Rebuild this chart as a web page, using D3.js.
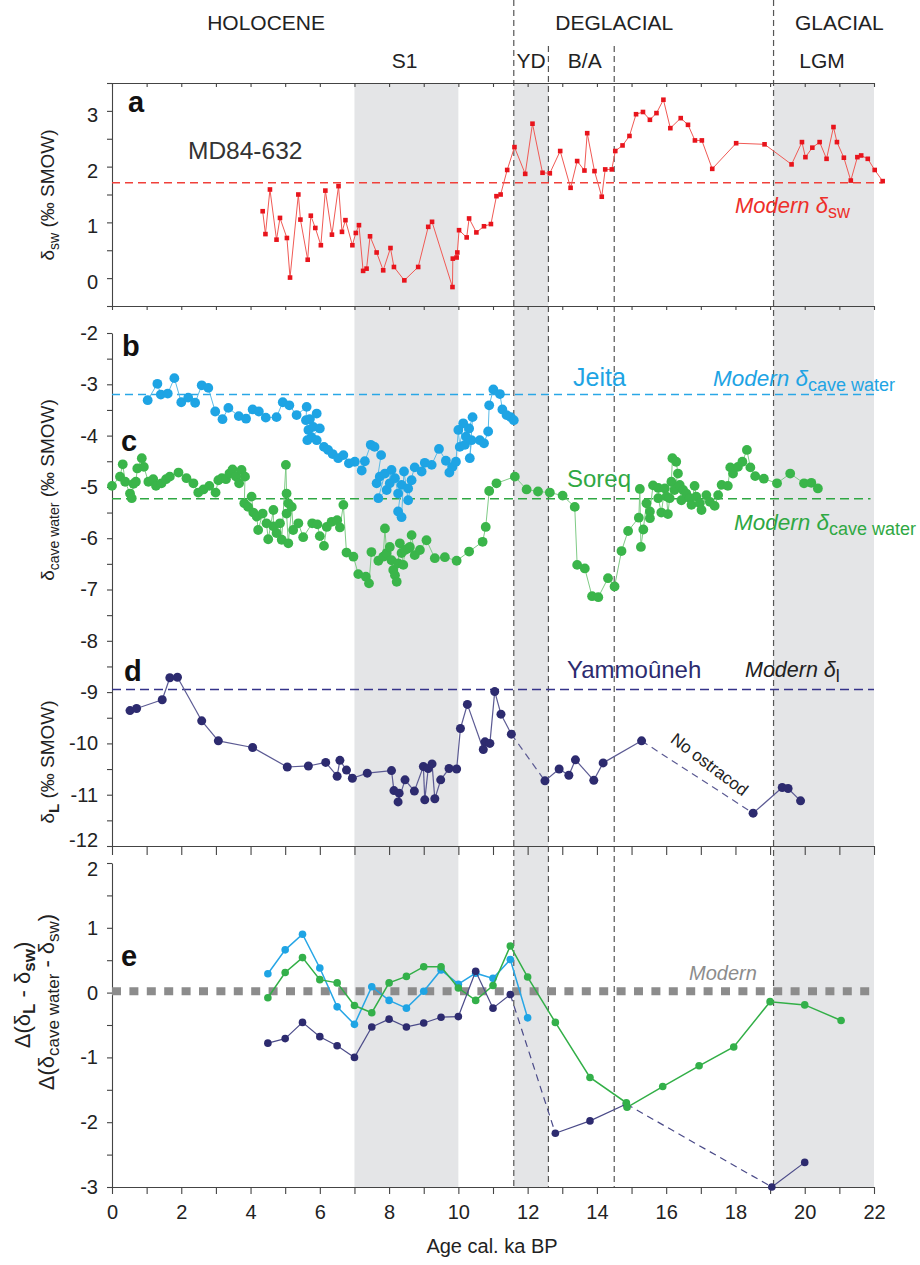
<!DOCTYPE html>
<html><head><meta charset="utf-8">
<script src="https://cdn.jsdelivr.net/npm/d3@7"></script>
<style>body{margin:0;background:#fff} svg{display:block} text{font-family:"Liberation Sans",Arial,Helvetica,sans-serif}</style>
</head><body><svg id="c" width="920" height="1265"></svg>
<script>
// ---------------- DATA ----------------
const periodLabels = ["HOLOCENE","DEGLACIAL","GLACIAL"];
const periodCenters = [4.45, 14.5, 21.0];
const eventLabels = ["S1","YD","B/A","LGM"];
const eventCenters = [8.45, 12.1, 13.65, 20.5];
const shadeBands = [[7,10],[11.6,12.6],[19.1,22]];
const boundaryAges = [11.6,12.6,14.5,19.1];
const xTicks = d3.range(0,23,1);
const xLabels = d3.range(0,23,2);

// (a) MD84-632 delta_sw
const redAge = [4.35,4.43,4.56,4.75,4.85,5.05,5.14,5.38,5.44,5.65,5.74,5.87,6.03,6.16,6.35,6.54,6.64,6.74,6.94,7.04,7.13,7.25,7.35,7.45,7.64,7.83,8.04,8.14,8.44,8.84,9.13,9.24,9.83,9.84,9.95,9.97,10.02,10.24,10.31,10.52,10.74,10.94,11.10,11.22,11.41,11.62,11.93,12.14,12.43,12.64,12.94,13.24,13.43,13.64,13.72,13.93,14.14,14.24,14.43,14.53,14.74,14.94,15.13,15.33,15.53,15.72,15.92,16.12,16.42,16.63,16.83,17.03,17.33,18.02,18.84,19.62,19.92,20.02,20.22,20.43,20.63,20.83,20.93,21.13,21.33,21.52,21.63,21.82,22.02,22.25];
const redVal = [1.20,0.79,1.59,0.69,1.08,0.72,0.01,1.50,1.05,0.33,1.12,0.90,0.59,1.57,0.78,1.65,0.83,1.04,0.59,0.81,0.95,0.13,0.17,0.75,0.46,0.14,0.54,0.20,-0.04,0.20,0.92,1.01,-0.16,0.35,0.37,0.46,0.86,0.73,1.07,0.82,0.93,0.97,1.47,1.50,1.94,2.35,1.87,2.77,1.89,1.88,2.28,1.62,2.10,1.93,2.60,1.92,1.46,1.95,1.95,2.28,2.38,2.55,2.94,2.98,2.84,2.96,3.20,2.69,2.87,2.75,2.47,2.47,1.96,2.42,2.40,2.04,2.44,2.17,2.34,2.44,2.14,2.71,2.44,2.16,1.75,2.17,2.20,2.14,1.94,1.74];
const modernSw = 1.71;

// (b) Jeita cave water
const jeitaAge = [1.03,1.31,1.41,1.61,1.80,2.00,2.20,2.40,2.59,2.78,2.98,3.19,3.36,3.66,3.87,4.06,4.24,4.44,4.75,4.93,5.12,5.33,5.62,5.60,5.71,5.91,5.67,5.81,6.00,5.76,5.64,5.91,6.12,6.24,6.37,6.53,6.68,6.84,7.01,7.21,7.30,7.47,7.58,7.77,7.64,7.73,7.88,7.69,7.93,8.07,8.02,8.17,8.26,8.36,8.26,8.36,8.43,8.55,8.65,8.55,8.74,8.94,9.03,9.23,9.44,9.64,9.74,9.83,9.93,10.00,10.04,10.14,10.22,10.19,10.31,10.41,10.33,10.38,10.62,10.74,10.86,10.89,11.01,11.20,11.27,11.39,11.51,11.60];
const jeitaVal = [-3.31,-2.99,-3.20,-3.18,-2.88,-3.35,-3.26,-3.36,-3.02,-3.07,-3.53,-3.68,-3.46,-3.62,-3.67,-3.49,-3.53,-3.65,-3.64,-3.35,-3.41,-3.60,-3.44,-3.70,-3.68,-3.57,-3.89,-3.83,-3.86,-4.03,-4.09,-4.09,-4.22,-4.28,-4.36,-4.44,-4.38,-4.54,-4.51,-4.68,-4.50,-4.18,-4.22,-4.38,-4.93,-4.80,-4.74,-5.22,-5.06,-4.67,-4.93,-4.83,-5.13,-4.96,-5.48,-5.59,-4.70,-5.26,-4.87,-5.03,-4.62,-4.70,-4.53,-4.57,-4.26,-4.49,-4.72,-4.61,-4.51,-3.89,-4.22,-3.76,-4.02,-4.18,-3.86,-3.64,-4.44,-4.09,-4.09,-4.15,-3.92,-3.41,-3.10,-3.19,-3.49,-3.60,-3.64,-3.70];
const modernJeita = -3.20;

// (c) Soreq cave water
const soreqAge = [0.00,0.23,0.31,0.38,0.52,0.57,0.62,0.69,0.73,0.86,0.92,1.05,1.19,1.27,1.43,1.56,1.67,1.92,2.15,2.35,2.49,2.64,2.81,2.99,3.07,3.17,3.29,3.39,3.48,3.58,3.67,3.74,3.84,3.82,3.93,4.03,4.08,4.18,4.22,4.35,4.46,4.51,4.66,4.66,4.75,4.85,4.90,5.02,5.04,5.09,5.04,5.09,5.19,5.23,5.38,5.52,5.78,5.93,6.00,6.12,6.20,6.34,6.50,6.58,6.68,6.77,6.97,7.11,7.33,7.42,7.49,7.69,7.83,7.88,7.93,8.02,8.07,8.12,8.17,8.22,8.26,8.31,8.36,8.41,8.46,8.55,8.60,8.65,8.74,8.89,9.08,9.32,9.61,9.95,10.31,10.70,10.79,10.89,11.10,11.63,11.97,12.30,12.64,13.01,13.36,13.43,13.65,13.86,14.04,14.32,14.51,14.71,14.90,15.21,15.24,15.27,15.34,15.43,15.53,15.53,15.62,15.77,15.77,15.86,15.96,16.01,16.05,16.10,16.15,16.18,16.29,16.34,16.24,16.39,16.44,16.49,16.58,16.68,16.73,16.82,16.87,16.97,17.02,17.16,17.26,17.40,17.50,17.60,17.78,17.85,17.93,18.07,18.20,18.33,18.43,18.57,18.82,19.20,19.58,19.98,20.19,20.38];
const soreqVal = [-4.98,-4.80,-4.56,-4.90,-5.13,-5.22,-4.94,-4.90,-4.64,-4.44,-4.61,-4.90,-4.85,-4.98,-4.93,-4.85,-4.80,-4.72,-4.83,-4.93,-5.11,-5.05,-4.98,-5.11,-4.87,-4.83,-4.85,-4.74,-4.66,-4.80,-4.93,-4.67,-4.80,-5.32,-5.39,-5.19,-5.50,-5.58,-5.84,-5.52,-5.71,-6.02,-5.45,-5.77,-5.90,-5.71,-6.03,-4.57,-5.13,-5.32,-5.52,-6.10,-5.39,-5.84,-5.71,-5.98,-5.71,-5.73,-5.96,-6.15,-5.78,-5.68,-5.65,-5.79,-5.35,-6.28,-6.36,-6.70,-6.75,-6.88,-6.27,-6.44,-6.36,-5.81,-6.29,-6.17,-6.43,-6.62,-6.72,-6.85,-6.49,-6.10,-6.29,-6.52,-6.23,-6.20,-6.17,-5.94,-6.33,-6.23,-6.04,-6.39,-6.37,-6.44,-6.26,-6.07,-5.78,-5.08,-4.93,-4.80,-5.05,-5.09,-5.11,-5.17,-5.39,-6.52,-6.59,-7.13,-7.15,-6.78,-6.94,-6.25,-5.86,-5.60,-5.04,-6.17,-5.83,-5.32,-5.61,-5.48,-4.97,-5.02,-5.22,-5.50,-5.03,-5.19,-5.53,-5.22,-4.90,-4.44,-4.51,-4.74,-5.06,-4.96,-5.26,-5.06,-5.13,-5.22,-5.35,-4.98,-5.19,-5.32,-5.45,-5.16,-5.29,-5.37,-5.16,-4.96,-4.98,-4.62,-4.74,-4.61,-4.51,-4.28,-4.62,-4.79,-4.84,-4.93,-4.74,-4.93,-4.92,-5.03];
const modernSoreq = -5.23;

// (d) Yammouneh lake water
const yamAge = [0.52,0.71,1.45,1.67,1.89,2.59,3.07,4.06,5.06,5.67,6.17,6.50,6.58,6.77,6.94,7.37,8.07,8.14,8.29,8.26,8.46,8.73,8.99,9.03,9.13,9.24,9.32,9.49,9.73,9.95,10.06,10.26,10.72,10.77,10.91,11.05,11.23,11.53,12.50,12.91,13.19,13.38,13.91,14.18,15.29,18.51,19.35,19.52,19.88];
const yamVal = [-9.36,-9.32,-9.15,-8.72,-8.71,-9.56,-9.95,-10.08,-10.46,-10.44,-10.37,-10.64,-10.33,-10.52,-10.68,-10.58,-10.53,-10.92,-10.97,-11.14,-10.71,-10.93,-10.45,-11.10,-10.49,-10.40,-11.08,-10.71,-10.49,-10.50,-9.71,-9.24,-10.12,-9.97,-10.00,-8.99,-9.43,-9.82,-10.73,-10.50,-10.62,-10.32,-10.72,-10.38,-9.95,-11.36,-10.86,-10.88,-11.12];
const yamDashedAfter = [37,44];
const modernYam = -8.95;

// (e) differences
const eJeitaAge = [4.5,5.0,5.5,6.0,6.5,7.0,7.5,8.0,8.5,9.0,9.5,10.0,10.5,11.0,11.5,12.0];
const eJeitaVal = [0.29,0.66,0.90,0.38,-0.22,-0.49,0.09,-0.12,-0.24,0.02,0.35,0.13,0.30,0.22,0.51,-0.39];
const eSoreqAge = [4.5,5.0,5.5,6.0,6.5,7.0,7.5,8.0,8.5,9.0,9.5,10.0,10.5,11.0,11.5,12.0,12.8,13.8,14.85,14.87,15.9,16.95,17.95,19.0,20.0,21.05];
const eSoreqVal = [-0.08,0.31,0.54,0.20,0.15,-0.20,-0.31,0.15,0.25,0.40,0.40,0.07,-0.12,0.11,0.72,0.24,-0.46,-1.31,-1.70,-1.77,-1.45,-1.13,-0.84,-0.14,-0.19,-0.43];
const eYamAge = [4.5,5.0,5.5,6.0,6.5,7.0,7.5,8.0,8.5,9.0,9.5,10.0,10.5,11.0,11.5,12.8,13.8,14.85,19.05,20.0];
const eYamVal = [-0.78,-0.71,-0.46,-0.68,-0.82,-1.00,-0.53,-0.41,-0.53,-0.47,-0.38,-0.37,0.33,-0.24,-0.03,-2.17,-1.98,-1.72,-3.0,-2.62];
const eYamDashedAfter = [14,17];
const modernE = 0.02;

// ---------------- DRAW ----------------
const svg = d3.select("#c");
const x = d3.scaleLinear().domain([0,22]).range([112,874]);
const yA = d3.scaleLinear().domain([-0.5,3.5]).range([306,83]);
const yB = d3.scaleLinear().domain([-12,-2]).range([846,333]);
const yE = d3.scaleLinear().domain([-3,2]).range([1187,863]);
const TOP = 83, BOT = 1187;
const FS = 20;

const C = {red:"#e8141c", redL:"#f05a55", blue:"#1ea4e4", blueL:"#5bbbe8",
  green:"#3ab54a", greenL:"#7fcb86", navy:"#2d2b6f", navyL:"#5b5a93", axis:"#444"};

// shading
svg.append("g").selectAll("rect").data(shadeBands).join("rect")
  .attr("x", d => x(d[0])).attr("width", d => x(d[1]) - x(d[0]))
  .attr("y", TOP).attr("height", BOT - TOP).attr("fill", "#e4e5e7");

// boundary dashed lines
const boundaryTop = [0, 46, 46, 0];
svg.append("g").selectAll("line").data(boundaryAges).join("line")
  .attr("x1", d => x(d)).attr("x2", d => x(d))
  .attr("y1", (d, i) => boundaryTop[i]).attr("y2", BOT)
  .attr("stroke", "#555").attr("stroke-width", 1.2).attr("stroke-dasharray", "6,4");

// top labels
svg.append("g").selectAll("text").data(periodLabels).join("text")
  .attr("x", (d, i) => x(periodCenters[i])).attr("y", 30).attr("text-anchor", "middle")
  .attr("font-size", 21).attr("fill", "#222").text(d => d);
svg.append("g").selectAll("text").data(eventLabels).join("text")
  .attr("x", (d, i) => x(eventCenters[i])).attr("y", 68).attr("text-anchor", "middle")
  .attr("font-size", 21).attr("fill", "#222").text(d => d);

function styleAxis(g, fs) {
  g.selectAll("path.domain").attr("stroke", C.axis).attr("stroke-width", 1.1);
  g.selectAll(".tick line").attr("stroke", C.axis).attr("stroke-width", 1.1);
  g.selectAll(".tick text").attr("font-size", fs || FS).attr("fill", "#222")
    .attr("font-family", "'Liberation Sans',Arial,sans-serif");
}
const fmtInt = d => Number.isInteger(d) ? String(d) : "";

// x axes without labels: top of a, bottom of a, bottom of d
[[TOP, 4], [306, 4], [846, 9]].forEach(([yy, ts]) => {
  const g = svg.append("g").attr("transform", `translate(0,${yy})`)
    .call(d3.axisBottom(x).tickValues(xTicks).tickFormat("").tickSize(ts).tickSizeOuter(0));
  styleAxis(g);
});
// bottom axis
const gxb = svg.append("g").attr("transform", `translate(0,${BOT})`)
  .call(d3.axisBottom(x).tickValues(xTicks).tickFormat(d => xLabels.includes(d) ? String(d) : "")
    .tickSize(7).tickSizeOuter(0).tickPadding(11));
styleAxis(gxb);
svg.append("text").attr("x", 492).attr("y", 1253).attr("text-anchor", "middle")
  .attr("font-size", FS).attr("fill", "#222").text("Age cal. ka BP");

// y axes
const gya = svg.append("g").attr("transform", "translate(112,0)")
  .call(d3.axisLeft(yA).tickValues(d3.range(-0.5, 3.51, 0.5)).tickFormat(fmtInt)
    .tickSize(5).tickSizeOuter(0).tickPadding(9));
styleAxis(gya);
gya.selectAll(".tick text").attr("dy", "0.52em");
const gyb = svg.append("g").attr("transform", "translate(112,0)")
  .call(d3.axisLeft(yB).tickValues(d3.range(-12, -1.99, 0.5)).tickFormat(fmtInt)
    .tickSize(5).tickSizeOuter(0).tickPadding(9));
styleAxis(gyb);
gyb.selectAll(".tick text").filter(d => d === -12).attr("dy", "0.02em");
const gye = svg.append("g").attr("transform", "translate(112,0)")
  .call(d3.axisLeft(yE).tickValues(d3.range(-3, 2.01, 0.5)).tickFormat(fmtInt)
    .tickSize(5).tickSizeOuter(0).tickPadding(9));
styleAxis(gye);
gye.selectAll(".tick text").filter(d => d === 2).attr("dy", "0.62em");

// rich text helper (subscripts as tspans)
function rich(parent, parts, attrs) {
  const t = parent.append("text");
  Object.entries(attrs || {}).forEach(([k, v]) => t.attr(k, v));
  let shifted = 0;
  parts.forEach(p => {
    const s = t.append("tspan").text(p.t);
    const want = p.sub ? 5 : 0;
    if (want !== shifted) { s.attr("dy", want - shifted); shifted = want; }
    if (p.size) s.attr("font-size", p.size);
    if (p.b) s.attr("font-weight", "bold");
    if (p.i) s.attr("font-style", "italic");
  });
  return t;
}
function yTitle(cx, cy, parts, fs) {
  const g = svg.append("g").attr("transform", `translate(${cx},${cy}) rotate(-90)`);
  rich(g, parts, {"text-anchor": "middle", "font-size": fs || 19, "fill": "#222"});
}
yTitle(54, 195, [{t: "δ"}, {t: "sw", sub: true, size: 14}, {t: " (‰ SMOW)"}]);
yTitle(54, 490, [{t: "δ"}, {t: "cave water", sub: true, size: 14}, {t: " (‰ SMOW)"}]);
yTitle(54, 762, [{t: "δ"}, {t: "L", sub: true, size: 15, b: true}, {t: " (‰ SMOW)"}]);
yTitle(30, 995, [{t: "Δ(δ"}, {t: "L", sub: true, size: 17, b: true}, {t: " - δ"}, {t: "sw", sub: true, size: 17, b: true}, {t: ")"}], 22);
yTitle(54, 1002, [{t: "Δ(δ"}, {t: "cave water", sub: true, size: 17}, {t: " - δ"}, {t: "sw", sub: true, size: 17}, {t: ")"}], 22);

// panel letters
[["a", 128, 112], ["b", 122, 356], ["c", 121, 451], ["d", 124, 681], ["e", 121, 966]].forEach(([l, px, py]) => {
  svg.append("text").attr("x", px).attr("y", py).attr("font-size", 29).attr("font-weight", "bold")
    .attr("fill", "#111").text(l);
});

// modern reference lines
function hline(y, v, x0, x1, col, w, dash) {
  svg.append("line").attr("x1", x(x0)).attr("x2", x(x1)).attr("y1", y(v)).attr("y2", y(v))
    .attr("stroke", col).attr("stroke-width", w).attr("stroke-dasharray", dash);
}
hline(yA, modernSw, 0, 22.25, "#f0403a", 1.6, "8,5");
hline(yB, modernJeita, 0, 22, "#2aa7e6", 1.6, "8,5");
hline(yB, modernSoreq, 0, 21.9, "#2fa843", 1.6, "9,5");
hline(yB, modernYam, 0, 22, "#34338a", 1.6, "9,5");
hline(yE, modernE, 0, 22, "#8c8c8c", 8, "9,8.4");

// series helpers
function pts(ages, vals) { return ages.map((a, i) => [a, vals[i]]); }
function lineSeries(data, y, col, w) {
  svg.append("path").datum(data)
    .attr("d", d3.line().x(d => x(d[0])).y(d => y(d[1])))
    .attr("fill", "none").attr("stroke", col).attr("stroke-width", w);
}
function dots(data, y, col, r) {
  svg.append("g").selectAll("circle").data(data).join("circle")
    .attr("cx", d => x(d[0])).attr("cy", d => y(d[1])).attr("r", r).attr("fill", col);
}
function segSeries(data, y, col, w, dashedAfter) {
  svg.append("g").selectAll("line").data(d3.range(data.length - 1)).join("line")
    .attr("x1", i => x(data[i][0])).attr("y1", i => y(data[i][1]))
    .attr("x2", i => x(data[i + 1][0])).attr("y2", i => y(data[i + 1][1]))
    .attr("stroke", col).attr("stroke-width", w)
    .attr("stroke-dasharray", i => dashedAfter.includes(i) ? "7,5" : null);
}

// (a)
const red = pts(redAge, redVal);
lineSeries(red, yA, C.redL, 1);
svg.append("g").selectAll("rect").data(red).join("rect")
  .attr("x", d => x(d[0]) - 2.3).attr("y", d => yA(d[1]) - 2.3)
  .attr("width", 4.6).attr("height", 4.6).attr("fill", C.red);

// (b)
const jei = pts(jeitaAge, jeitaVal);
lineSeries(jei, yB, C.blueL, 1);
dots(jei, yB, C.blue, 4.9);
// (c)
const sor = pts(soreqAge, soreqVal);
lineSeries(sor, yB, C.greenL, 1);
dots(sor, yB, C.green, 4.9);
// (d)
const yam = pts(yamAge, yamVal);
segSeries(yam, yB, C.navyL, 1.2, yamDashedAfter);
dots(yam, yB, C.navy, 4.5);

// (e)
const ej = pts(eJeitaAge, eJeitaVal), es = pts(eSoreqAge, eSoreqVal), ey = pts(eYamAge, eYamVal);
lineSeries(ej, yE, "#27a6e6", 1.5);
dots(ej, yE, "#1ea4e4", 3.8);
lineSeries(es, yE, "#32af47", 1.5);
segSeries(ey, yE, "#4a4a88", 1.2, eYamDashedAfter);
dots(ey, yE, C.navy, 3.8);
dots(es, yE, "#33b04a", 3.8);

// annotations
svg.append("text").attr("x", 188).attr("y", 159).attr("font-size", 24.5).attr("fill", "#333").text("MD84-632");
rich(svg, [{t: "Modern δ", i: true}, {t: "sw", sub: true, size: 18}], {x: 735, y: 213, "font-size": 22, fill: "#ee2f2a"});
svg.append("text").attr("x", 573).attr("y", 386).attr("font-size", 25).attr("fill", "#1ea4e4").text("Jeita");
rich(svg, [{t: "Modern δ", i: true}, {t: "cave water", sub: true, size: 18}], {x: 713, y: 386, "font-size": 22.5, fill: "#1ea4e4"});
svg.append("text").attr("x", 567).attr("y", 487).attr("font-size", 24).attr("fill", "#2fa843").text("Soreq");
rich(svg, [{t: "Modern δ", i: true}, {t: "cave water", sub: true, size: 18}], {x: 734, y: 530, "font-size": 22.5, fill: "#2fa843"});
svg.append("text").attr("x", 567).attr("y", 678).attr("font-size", 24).attr("fill", "#2d2b6f").text("Yammoûneh");
rich(svg, [{t: "Modern δ", i: true}, {t: "l", sub: true, size: 18}], {x: 745, y: 677, "font-size": 21.5, fill: "#222"});
svg.append("text").attr("transform", "translate(706,769) rotate(37)").attr("text-anchor", "middle")
  .attr("font-size", 17).attr("fill", "#222").text("No ostracod");
svg.append("text").attr("x", 689).attr("y", 980).attr("font-size", 20).attr("font-style", "italic")
  .attr("fill", "#8c8c8c").text("Modern");
</script></body></html>
